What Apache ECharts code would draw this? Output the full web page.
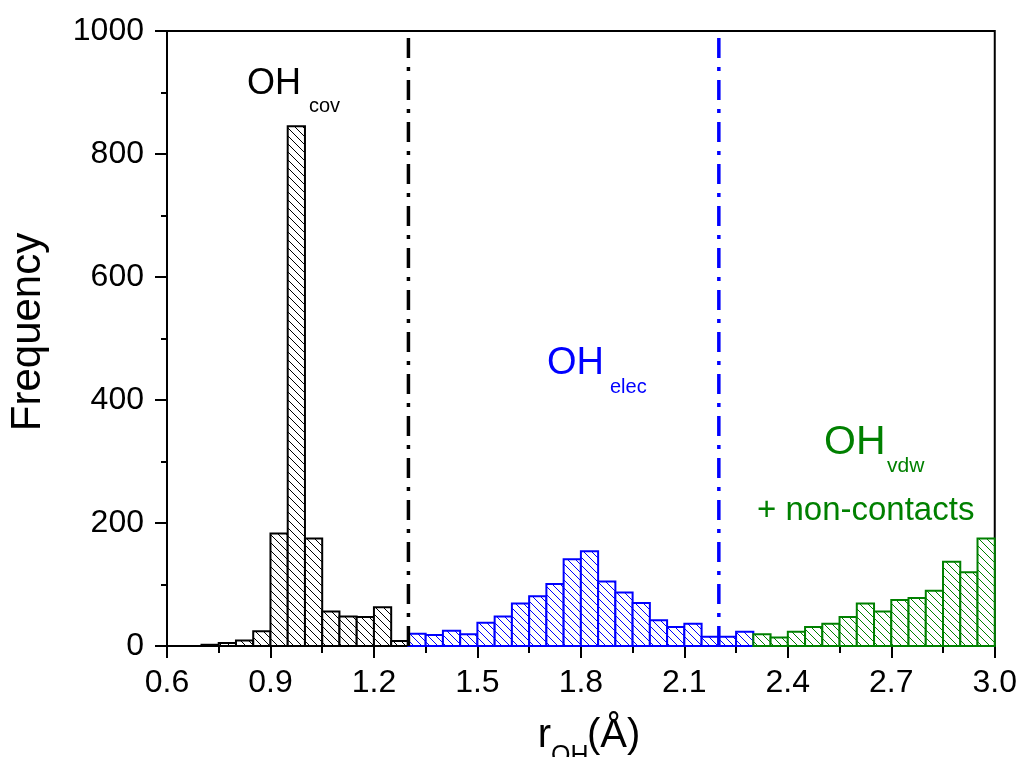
<!DOCTYPE html>
<html>
<head>
<meta charset="utf-8">
<script src="https://cdn.jsdelivr.net/npm/echarts@6/dist/echarts.min.js"></script>
<style>
  html, body { margin: 0; padding: 0; background: #fff; }
  #chart { width: 1020px; height: 757px; }
</style>
</head>
<body>
<div id="chart"></div>
<script>
// ---- data ----
const BIN_WIDTH = 0.05;
const covBins   = [0.70, 0.75, 0.80, 0.85, 0.90, 0.95, 1.00, 1.05, 1.10, 1.15, 1.20, 1.25];
const covCounts = [2, 5, 9, 24, 183, 845, 175, 56, 48, 47, 63, 8];
const elecBins   = [1.30, 1.35, 1.40, 1.45, 1.50, 1.55, 1.60, 1.65, 1.70, 1.75, 1.80, 1.85, 1.90, 1.95, 2.00, 2.05, 2.10, 2.15, 2.20, 2.25];
const elecCounts = [20, 18, 25, 19, 38, 48, 69, 81, 101, 141, 154, 105, 87, 70, 42, 31, 36, 15, 15, 23];
const vdwBins   = [2.30, 2.35, 2.40, 2.45, 2.50, 2.55, 2.60, 2.65, 2.70, 2.75, 2.80, 2.85, 2.90, 2.95];
const vdwCounts = [19, 14, 23, 31, 36, 47, 69, 56, 75, 78, 90, 137, 120, 175];
const cutoffCov  = 1.3;
const cutoffElec = 2.2;
const xTicks = [0.6, 0.9, 1.2, 1.5, 1.8, 2.1, 2.4, 2.7, 3.0];
const yTicks = [0, 200, 400, 600, 800, 1000];

const FONT = '"Liberation Sans", Arial, sans-serif';
const C_BLACK = '#000000';
const C_BLUE = '#0000ff';
const C_GREEN = '#008000';

function hatch(color) {
  const s = 8;
  const c = document.createElement('canvas');
  c.width = s; c.height = s;
  const g = c.getContext('2d');
  g.fillStyle = '#fff';
  g.fillRect(0, 0, s, s);
  g.strokeStyle = color;
  g.lineWidth = 1;
  for (const k of [-s, 0, s]) {
    g.beginPath();
    g.moveTo(k - 1, -1);
    g.lineTo(k + s + 1, s + 1);
    g.stroke();
  }
  return { image: c, repeat: 'repeat' };
}

function histSeries(name, bins, counts, color) {
  const pat = hatch(color);
  return {
    name: name,
    type: 'custom',
    data: bins.map((b, i) => [b, counts[i]]),
    renderItem: function (params, api) {
      const x0 = api.value(0);
      const y = api.value(1);
      const p0 = api.coord([x0, y]);
      const p1 = api.coord([x0 + BIN_WIDTH, 0]);
      return {
        type: 'rect',
        shape: { x: p0[0], y: p0[1], width: p1[0] - p0[0], height: p1[1] - p0[1] },
        style: { fill: pat, stroke: color, lineWidth: 2 }
      };
    },
    z: 2
  };
}

function vline(x, color) {
  return {
    type: 'line',
    data: [[x, yTicks[0]], [x, yTicks[yTicks.length - 1]]],
    symbol: 'none',
    lineStyle: { color: color, width: 3.5, type: [20, 9, 4, 9] },
    z: 3,
    silent: true
  };
}

// text helper: y given as baseline, converted to middle alignment
function label(text, x, baseline, size, color, align) {
  return { type: 'text', x: x, y: baseline - 0.35 * size,
    style: { text: text, font: size + 'px ' + FONT, fill: color, align: align || 'left', verticalAlign: 'middle' } };
}

const chart = echarts.init(document.getElementById('chart'));
chart.setOption({
  backgroundColor: '#fff',
  animation: false,
  grid: { left: 167, right: 23, top: 31, bottom: 111, show: true, borderColor: '#000', borderWidth: 2, backgroundColor: 'transparent' },
  xAxis: {
    type: 'value',
    min: xTicks[0], max: xTicks[xTicks.length - 1], interval: 0.3,
    axisLine: { show: true, onZero: false, lineStyle: { color: '#000', width: 2 } },
    axisTick: { show: true, inside: false, length: 12, lineStyle: { color: '#000', width: 2 } },
    minorTick: { show: true, splitNumber: 2, length: 7, lineStyle: { color: '#000', width: 2 } },
    splitLine: { show: false },
    axisLabel: { fontFamily: FONT, fontSize: 32, color: '#000', margin: 21, formatter: v => v.toFixed(1) }
  },
  yAxis: {
    type: 'value',
    min: yTicks[0], max: yTicks[yTicks.length - 1], interval: 200,
    axisLine: { show: true, lineStyle: { color: '#000', width: 2 } },
    axisTick: { show: true, inside: false, length: 12, lineStyle: { color: '#000', width: 2 } },
    minorTick: { show: true, splitNumber: 2, length: 6, lineStyle: { color: '#000', width: 2 } },
    splitLine: { show: false },
    axisLabel: { fontFamily: FONT, fontSize: 32, color: '#000', margin: 23, formatter: v => String(v) }
  },
  series: [
    histSeries('OHcov', covBins, covCounts, C_BLACK),
    histSeries('OHelec', elecBins, elecCounts, C_BLUE),
    histSeries('OHvdw', vdwBins, vdwCounts, C_GREEN),
    vline(cutoffCov, C_BLACK),
    vline(cutoffElec, C_BLUE)
  ],
  graphic: [
    // y axis title
    { type: 'text', x: 28, y: 332, rotation: Math.PI / 2,
      style: { text: 'Frequency', font: '42px ' + FONT, fill: '#000', align: 'center', verticalAlign: 'middle' } },
    // x axis title r_OH(Å)
    label('r', 551, 750, 40, '#000', 'right'),
    label('OH', 551, 765, 25, '#000'),
    label('(Å)', 587, 750, 40, '#000'),
    // OH_cov
    label('OH', 247, 97, 36, C_BLACK),
    label('cov', 309, 113, 20, C_BLACK),
    // OH_elec
    label('OH', 547, 377, 38, C_BLUE),
    label('elec', 610, 394, 20, C_BLUE),
    // OH_vdw
    label('OH', 824, 457, 41, C_GREEN),
    label('vdw', 887, 474, 21, C_GREEN),
    label('+ non-contacts', 757, 522, 33, C_GREEN)
  ]
});
</script>
</body>
</html>
